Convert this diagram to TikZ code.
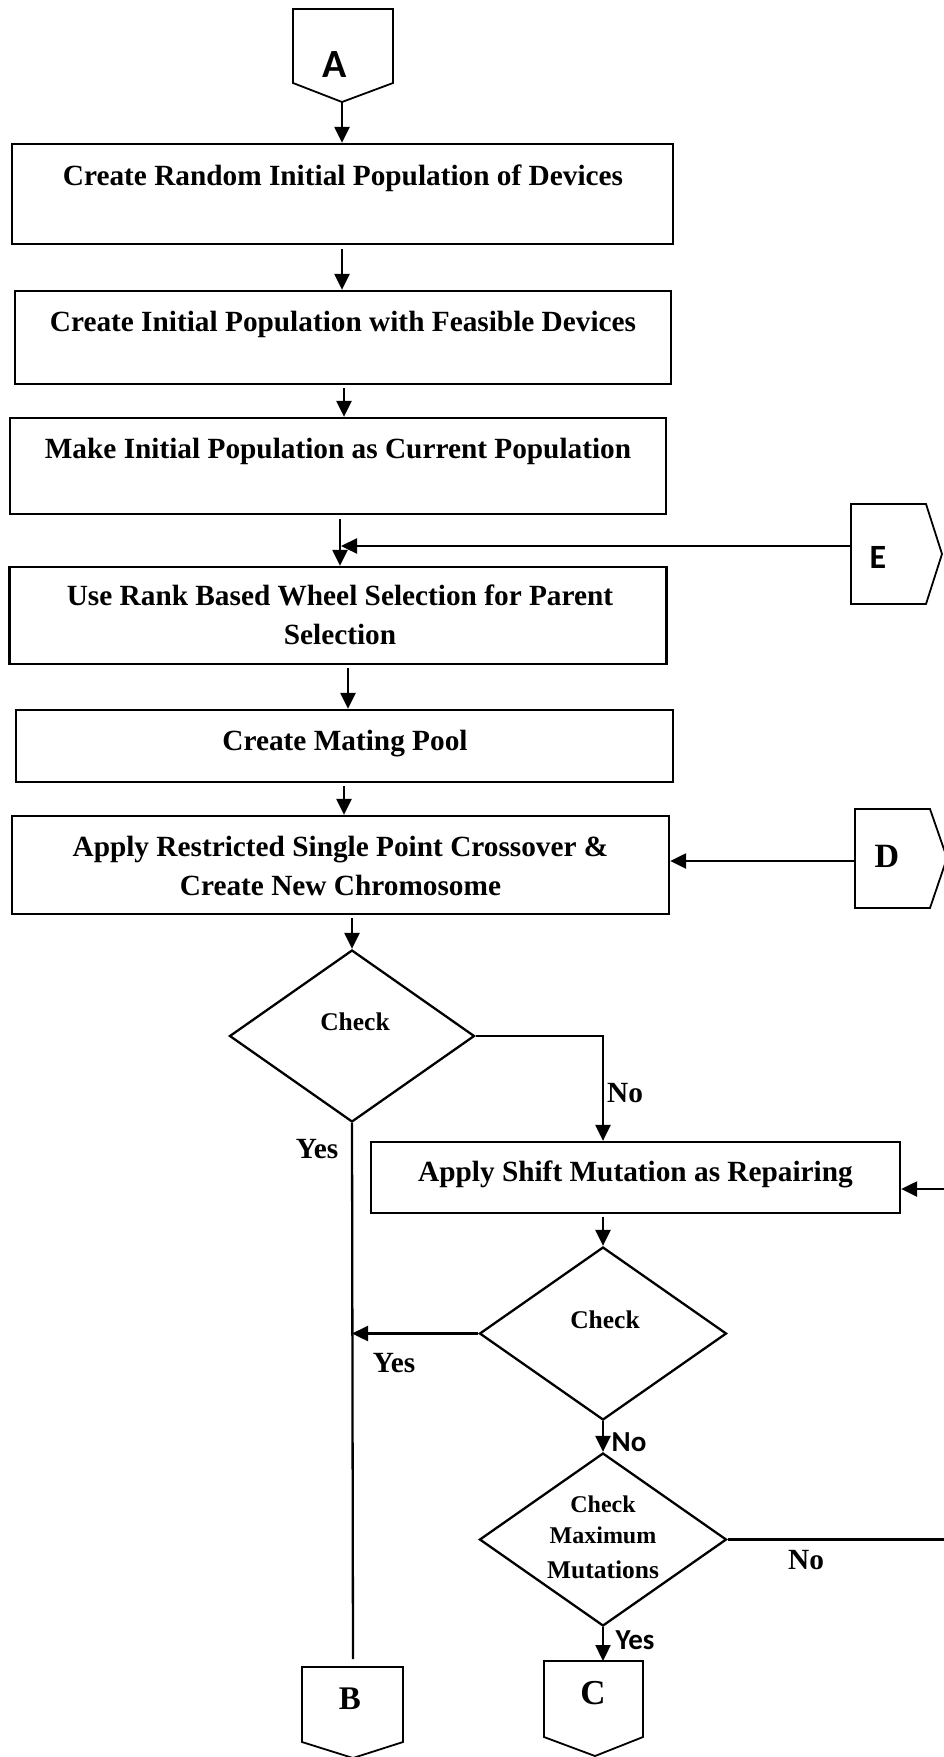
\documentclass[tikz,border=0pt]{standalone}
\usepackage{fontspec}
\setmainfont{Liberation Serif}
\newfontfamily\calfont{Carlito}
\usetikzlibrary{arrows.meta,shapes.geometric,calc}
\begin{document}
\begin{tikzpicture}[x=1pt,y=-1pt,
  box/.style={draw,line width=2.3pt,inner sep=0pt},
  dia/.style={draw,diamond,line width=2.3pt,inner sep=0pt},
  txt/.style={font=\fontsize{29.3}{39}\selectfont\bfseries,align=center,inner sep=0pt},
  small/.style={font=\fontsize{24}{31}\selectfont\bfseries,align=center,inner sep=0pt},
  ctxt/.style={font=\fontsize{25.5}{31}\selectfont\bfseries,align=center,inner sep=0pt},
  sans/.style={font=\calfont\fontsize{29}{31}\selectfont\bfseries,inner sep=0pt},
  pent/.style={draw,line width=1.8pt,line join=miter},
  con/.style={line width=2.3pt},
  arr/.style={line width=2.3pt,-{Triangle[length=16pt,width=15pt]}}
]
\useasboundingbox (0,0) rectangle (943,1757);

% connector A
\draw[pent] (293,9) -- (393,9) -- (393,83) -- (342,102) -- (293,83) -- cycle;
\node[font=\calfont\fontsize{40}{40}\selectfont\bfseries,inner sep=0pt] (A) at (335,65) {A};
\coordinate (Atip) at (342,102);

% boxes
\node[box,minimum width=661pt,minimum height=100pt] (b1) at (342.5,194) {};
\node[txt] (t1) at (343,178.5) {Create Random Initial Population of Devices};
\node[box,minimum width=656pt,minimum height=93pt] (b2) at (343,337.5) {};
\node[txt] (t2) at (343,324.5) {Create Initial Population with Feasible Devices};
\node[box,minimum width=656pt,minimum height=96pt] (b3) at (338,466) {};
\node[txt] (t3) at (338,451) {Make Initial Population as Current Population};
\node[box,minimum width=657pt,minimum height=97pt] (b4) at (338,615.5) {};
\node[txt] (t4) at (340,615) {Use Rank Based Wheel Selection for Parent\\Selection};
\node[box,minimum width=657pt,minimum height=72pt] (b5) at (344.5,746) {};
\node[txt] (t5) at (345,743.5) {Create Mating Pool};
\node[box,minimum width=657pt,minimum height=98pt] (b6) at (340.5,865) {};
\node[txt] (t6) at (340.5,866) {Apply Restricted Single Point Crossover \&\\Create New Chromosome};
\node[box,minimum width=529pt,minimum height=71pt] (b7) at (635.5,1177.5) {};
\node[txt] (t7) at (635.5,1174.5) {Apply Shift Mutation as Repairing};

% diamonds
\node[dia,minimum width=245pt,minimum height=172pt] (d1) at (352,1036) {};
\node[ctxt] (dt1) at (355,1021.5) {Check};
\node[dia,minimum width=247pt,minimum height=173pt] (d2) at (603,1333.5) {};
\node[ctxt] (dt2) at (605,1319.5) {Check};
\node[dia,minimum width=247pt,minimum height=173pt] (d3) at (603,1539.5) {};
\node[small] (dt3a) at (603,1504.5) {Check};
\node[small] (dt3b) at (603,1535.5) {Maximum};
\node[ctxt] (dt3c) at (603,1569.5) {Mutations};

% E connector
\draw[pent] (851,504) -- (926,504) -- (942,554) -- (926,604) -- (851,604) -- cycle;
\node[font=\calfont\fontsize{34}{34}\selectfont\bfseries,inner sep=0pt] (E) at (878,557) {E};
\coordinate (Ein) at (851,546);

% D connector
\draw[pent] (855,809) -- (930,809) -- (947,858) -- (930,908) -- (855,908) -- cycle;
\node[font=\fontsize{34}{34}\selectfont\bfseries,inner sep=0pt] (D) at (887,856) {D};
\coordinate (Din) at (855,861);

% B connector
\draw[pent] (302,1667) -- (403,1667) -- (403,1742) -- (353,1758) -- (302,1742) -- cycle;
\node[font=\fontsize{33}{33}\selectfont\bfseries,inner sep=0pt] (B) at (350,1699) {B};
\coordinate (Bt) at (353,1659);

% C connector
\draw[pent] (544,1661) -- (643,1661) -- (643,1737) -- (595,1756) -- (544,1737) -- cycle;
\node[font=\fontsize{35}{35}\selectfont\bfseries,inner sep=0pt] (C) at (593,1693) {C};
\coordinate (Ct) at (603,1661);

% vertical flow
\draw[arr] (Atip) -- (Atip |- b1.north);
\coordinate (c12) at (342,249);
\draw[arr] (c12) -- (c12 |- b2.north);
\coordinate (c23) at (344,388);
\draw[arr] (c23) -- (c23 |- b3.north);
\coordinate (c34) at (340,519);
\draw[arr] (c34) -- (c34 |- b4.north);
\coordinate (c45) at (348,668);
\draw[arr] (c45) -- (c45 |- b5.north);
\coordinate (c56) at (344,786);
\draw[arr] (c56) -- (c56 |- b6.north);
\coordinate (c6d) at (352,918);
\draw[arr] (c6d) -- (d1.north);

% E and D returns
\coordinate (m34) at (341,546);
\draw[arr] (Ein) -- (m34);
\draw[arr] (Din) -- (Din -| b6.east);

% decision 1
\coordinate (k1) at (603,1036);
\draw[arr] (d1.east) -- (k1) -- (k1 |- b7.north);
\node[txt] (no1) at (625,1093.5) {No};
\draw[con] (d1.south) -- (Bt);
\node[txt] (yes1) at (317,1149.5) {Yes};

% decision 2
\coordinate (c7) at (603,1217);
\draw[arr] (c7) -- (d2.north);
\draw[arr] (d2.west) -- (d2.west -| d1.south);
\node[txt] (yes2) at (394,1363.5) {Yes};
\draw[arr] (d2.south) -- (d3.north);
\node[sans] (no2) at (629,1442.5) {No};

% decision 3
\draw[arr] (d3.south) -- (Ct);
\node[sans] (yes3) at (635,1640.5) {Yes};
\coordinate (r1) at (950,1539.5);
\coordinate (r2) at (950,1189);
\draw[arr] (d3.east) -- (r1) -- (r2) -- (r2 -| b7.east);
\node[txt] (no3) at (806,1560.5) {No};
\end{tikzpicture}
\end{document}
